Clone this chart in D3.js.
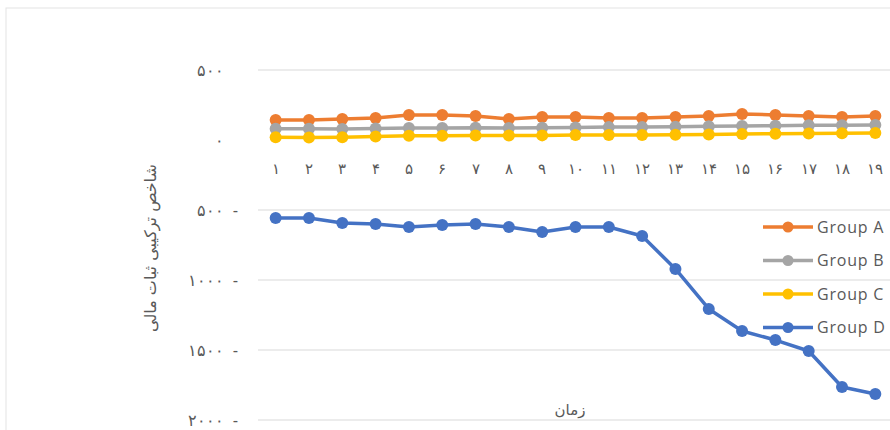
<!DOCTYPE html>
<html>
<head>
<meta charset="utf-8">
<script src="https://cdn.jsdelivr.net/npm/d3@7"></script>
<style>
  body { margin: 0; background: #fff; }
  svg { display: block; }
</style>
</head>
<body>
<div id="chart"></div>
<script>
const periods = d3.range(1, 20);
const seriesNames = ['Group A', 'Group B', 'Group C', 'Group D'];
const groupA = [143, 143, 150, 157, 179, 179, 171, 150, 164, 164, 157, 157, 164, 171, 186, 179, 171, 164, 171];
const groupB = [80, 80, 78, 82, 85, 85, 88, 85, 88, 90, 92, 92, 95, 98, 100, 102, 105, 105, 107];
const groupC = [20, 18, 20, 25, 30, 30, 32, 32, 33, 35, 36, 36, 38, 40, 42, 45, 46, 48, 50];
const groupD = [-557, -557, -593, -600, -621, -607, -600, -621, -657, -621, -621, -686, -921, -1207, -1364, -1429, -1507, -1764, -1814];
const yTicks = [500, 0, -500, -1000, -1500, -2000];
const colors = ['#ED7D31', '#A5A5A5', '#FFC000', '#4472C4'];

const W = 890, H = 430;
const plot = { left: 259, right: 892, top: 70, bottom: 420 };

// Persian digits for labels
const fa = n => String(n).replace(/\d/g, c => '۰۱۲۳۴۵۶۷۸۹'[+c]);

const svg = d3.select('#chart').append('svg')
  .attr('width', W)
  .attr('height', H)
  .style('font-family', '"DejaVu Sans", sans-serif');

// chart frame
svg.append('rect')
  .attr('x', 6).attr('y', 8)
  .attr('width', W + 10).attr('height', H + 10)
  .attr('fill', 'none')
  .attr('stroke', '#e3e3e3');

const x = d3.scaleBand().domain(periods).range([plot.left, plot.right]).padding(0);
const y = d3.scaleLinear().domain([-2000, 500]).range([plot.bottom, plot.top]);
const cx = d => x(d) + x.bandwidth() / 2;

// gridlines (zero line is hidden under the series)
svg.append('g')
  .selectAll('line')
  .data(yTicks.filter(t => t !== 0))
  .join('line')
  .attr('x1', plot.left - 1)
  .attr('x2', plot.right)
  .attr('y1', d => y(d))
  .attr('y2', d => y(d))
  .attr('stroke', '#d9d9d9')
  .attr('stroke-width', 1);

// y axis labels
const yAxis = svg.append('g')
  .attr('transform', `translate(${plot.left},0)`)
  .call(d3.axisLeft(y).tickValues(yTicks).tickSize(0)
    .tickFormat(d => d < 0 ? fa(-d) + '\u00A0\u00A0-' : fa(d)));
yAxis.select('.domain').remove();
yAxis.selectAll('text')
  .attr('x', d => d < 0 ? -21 : -35)
  .attr('fill', '#595959')
  .style('font-size', '16px');

// x axis labels along the zero line
const xAxis = svg.append('g')
  .attr('transform', `translate(0,${y(0)})`)
  .call(d3.axisBottom(x).tickSize(0).tickPadding(23).tickFormat(fa));
xAxis.select('.domain').remove();
xAxis.selectAll('text')
  .attr('fill', '#595959')
  .style('font-size', '15px');

// axis titles
svg.append('text')
  .attr('transform', `translate(156,248) rotate(-90)`)
  .attr('text-anchor', 'middle')
  .attr('fill', '#595959')
  .style('font-size', '16px')
  .text('شاخص ترکیبی ثبات مالی');

svg.append('text')
  .attr('x', 570)
  .attr('y', 415)
  .attr('text-anchor', 'middle')
  .attr('fill', '#595959')
  .style('font-size', '15px')
  .text('زمان');

// series
const series = [groupA, groupB, groupC, groupD].map((vals, i) => ({
  name: seriesNames[i],
  color: colors[i],
  values: vals.map((v, j) => ({ p: periods[j], v }))
}));

const line = d3.line().x(d => cx(d.p)).y(d => y(d.v));

const sg = svg.append('g').selectAll('g')
  .data(series)
  .join('g');

sg.append('path')
  .attr('d', d => line(d.values))
  .attr('fill', 'none')
  .attr('stroke', d => d.color)
  .attr('stroke-width', 3.5)
  .attr('stroke-linejoin', 'round');

sg.selectAll('circle')
  .data(d => d.values.map(v => ({ ...v, color: d.color })))
  .join('circle')
  .attr('cx', d => cx(d.p))
  .attr('cy', d => y(d.v))
  .attr('r', 6)
  .attr('fill', d => d.color);

// legend
const legend = svg.append('g')
  .attr('transform', 'translate(763,227)');

const li = legend.selectAll('g')
  .data(series)
  .join('g')
  .attr('transform', (d, i) => `translate(0,${i * 33.5})`);

li.append('line')
  .attr('x1', 0).attr('x2', 50)
  .attr('stroke', d => d.color)
  .attr('stroke-width', 3.5);

li.append('circle')
  .attr('cx', 25)
  .attr('r', 5.5)
  .attr('fill', d => d.color);

li.append('text')
  .attr('x', 54)
  .attr('dy', '0.35em')
  .attr('fill', '#595959')
  .style('font-family', '"Open Sans", sans-serif')
  .style('font-size', '16px')
  .style('letter-spacing', '0.8px')
  .text(d => d.name);
</script>
</body>
</html>
